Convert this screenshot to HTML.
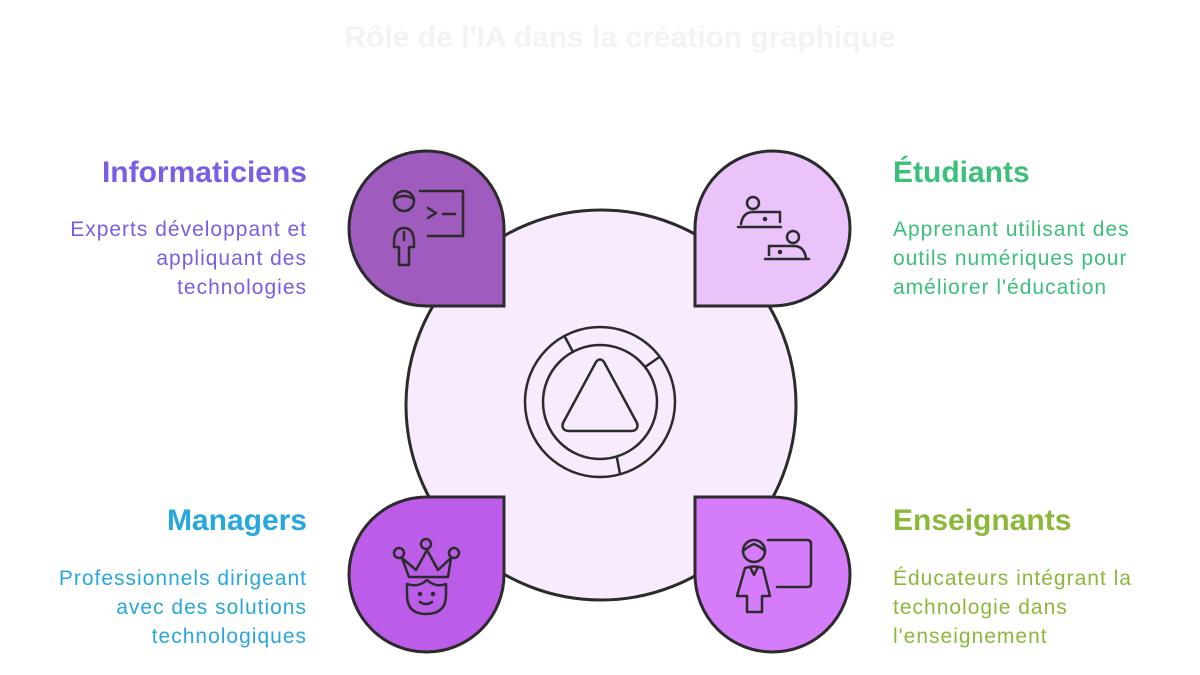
<!DOCTYPE html>
<html><head><meta charset="utf-8"><style>
body{margin:0;width:1200px;height:675px;background:#fff;font-family:"Liberation Sans",Arial,sans-serif;position:relative;overflow:hidden}
.t{position:absolute;font-weight:bold;font-size:30px}
.d{position:absolute;font-size:21px;line-height:29px;letter-spacing:1px}
.r{text-align:right}
</style></head><body>
<svg width="1200" height="675" style="position:absolute;left:0;top:0">
<text x="620" y="47" text-anchor="middle" font-family="Liberation Sans" font-weight="bold" font-size="30" fill="#f3f3f3">Rôle de l'IA dans la création graphique</text>
<circle cx="601" cy="405" r="195" fill="#f8ebfd" stroke="#2b2b2b" stroke-width="3"/>
<path d="M504,306 L426.5,306 A77.5,77.5 0 1 1 504,228.5 Z" fill="#9f5bbd" stroke="#2b2b2b" stroke-width="3"/>
<path d="M695,306 L772.5,306 A77.5,77.5 0 1 0 695,228.5 Z" fill="#ebc3fb" stroke="#2b2b2b" stroke-width="3"/>
<path d="M504,497 L426.5,497 A77.5,77.5 0 1 0 504,574.5 Z" fill="#bb5de8" stroke="#2b2b2b" stroke-width="3"/>
<path d="M695,497 L772.5,497 A77.5,77.5 0 1 1 695,574.5 Z" fill="#d57cfb" stroke="#2b2b2b" stroke-width="3"/>
<g fill="none" stroke="#2b2b2b" stroke-width="2.5" stroke-linecap="round" stroke-linejoin="round">
<circle cx="600" cy="402" r="75"/><circle cx="600" cy="402" r="57"/>
<line x1="565" y1="337" x2="573" y2="352"/><line x1="645" y1="367" x2="658" y2="358"/><line x1="617" y1="458" x2="620" y2="474"/>
<path d="M596,362 Q600,357 604,362 L637,423 Q639,430 632,431 L568,431 Q561,430 563,423 Z"/>
<circle cx="404" cy="201" r="10"/><path d="M394,199 Q404,193 414,199"/>
<path d="M420,191 H463 V236 H428"/><path d="M428,208 L436,213 L428,218"/><line x1="443" y1="214" x2="455" y2="214"/>
<path d="M394,243 Q394,228 404,228 Q414,228 414,243 V247 H409 V265 H399 V247 H394 Z"/><line x1="404" y1="232" x2="404" y2="240"/>
<circle cx="753" cy="203" r="6"/><path d="M741,224 Q743,212 753,212 H780 V222"/><line x1="738" y1="227" x2="781" y2="227"/><circle cx="765" cy="219" r="1" fill="#2b2b2b"/>
<circle cx="793" cy="237" r="6"/><path d="M806,258 Q804,246 794,246 H769 V255"/><line x1="765" y1="259" x2="809" y2="259"/><circle cx="780" cy="252" r="1" fill="#2b2b2b"/>
<circle cx="399" cy="553" r="5"/><circle cx="426" cy="544" r="5"/><circle cx="454" cy="553" r="5"/>
<path d="M402,558 L409,577 H448 L451,558 L438,570 L427,550 L416,570 Z"/>
<path d="M407,584 V595 Q407,614 426,614 Q446,614 446,595 V584 Q436,588 427,580 Q418,588 407,584"/>
<circle cx="420" cy="594" r="1" fill="#2b2b2b"/><circle cx="433" cy="594" r="1" fill="#2b2b2b"/><path d="M420,602 Q426,606 432,602"/>
<circle cx="754" cy="551" r="11"/><path d="M743,551 Q749,546 754,544 Q759,546 765,551"/>
<path d="M768,540 H807 Q811,540 811,544 V584 Q811,587 807,587 H777"/>
<path d="M745,568 Q754,565 763,568 L770,596 H762 V612 H747 V596 H737 Z"/><path d="M750,567 L754,575 L758,567"/>
</g>
</svg>
<div class="t r" style="right:893px;top:156px;color:#7b5ce5">Informaticiens</div>
<div class="d r" style="right:893px;top:215px;color:#7b5ce5">Experts développant et<br>appliquant des<br>technologies</div>
<div class="t" style="left:893px;top:156px;color:#3cbf7a">Étudiants</div>
<div class="d" style="left:893px;top:215px;color:#3cbf7a">Apprenant utilisant des<br>outils numériques pour<br>améliorer l'éducation</div>
<div class="t r" style="right:893px;top:504px;color:#28a7dc">Managers</div>
<div class="d r" style="right:893px;top:564px;color:#28a7dc">Professionnels dirigeant<br>avec des solutions<br>technologiques</div>
<div class="t" style="left:893px;top:504px;color:#8cb83a">Enseignants</div>
<div class="d" style="left:893px;top:564px;color:#8cb83a">Éducateurs intégrant la<br>technologie dans<br>l'enseignement</div>
</body></html>
